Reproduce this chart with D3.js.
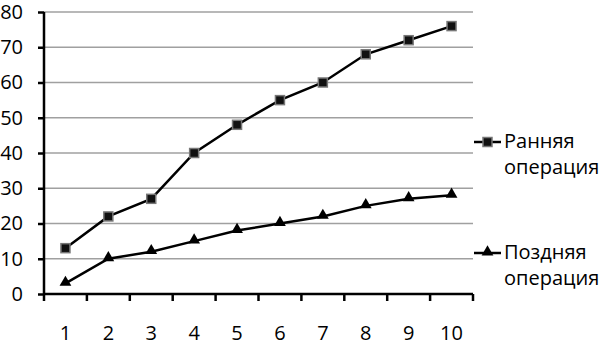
<!DOCTYPE html>
<html>
<head>
<meta charset="utf-8">
<script src="https://cdn.jsdelivr.net/npm/d3@7"></script>
<style>
  body { margin: 0; background: #fff; }
  text { font-family: "Open Sans", "Noto Sans", sans-serif; fill: #000; }
</style>
</head>
<body>
<svg id="chart" width="600" height="347"></svg>
<script>
// Data ------------------------------------------------------------------------------------
const categories = ["1", "2", "3", "4", "5", "6", "7", "8", "9", "10"];
const earlyValues = [13, 22, 27, 40, 48, 55, 60, 68, 72, 76];
const lateValues = [3, 10, 12, 15, 18, 20, 22, 25, 27, 28];
const yTicks = [0, 10, 20, 30, 40, 50, 60, 70, 80];
const seriesNames = [["Ранняя", "операция"], ["Поздняя", "операция"]];

// Setup -----------------------------------------------------------------------------------
var svg = d3.select("#chart");
var plotLeft = 44, plotRight = 473, plotTop = 12, plotBottom = 294;

var x = d3.scaleBand().domain(categories).range([plotLeft, plotRight]);
var y = d3.scaleLinear().domain([0, 80]).range([plotBottom, plotTop]);

// gridlines
svg.append("g")
    .selectAll("line")
    .data(yTicks.filter(d => d > 0))
    .enter()
    .append("line")
    .attr("x1", plotLeft)
    .attr("x2", plotRight)
    .attr("y1", d => y(d))
    .attr("y2", d => y(d))
    .style("stroke", "#a0a0a0")
    .style("stroke-width", 1.5);

// y axis
var yAxis = svg.append("g")
    .attr("transform", "translate(" + plotLeft + ",0)")
    .call(d3.axisLeft(y).tickValues(yTicks).tickSize(6).tickPadding(15));
yAxis.selectAll("text").style("font-size", "20px").attr("font-family", null);
yAxis.select(".domain").attr("d", "M0," + plotTop + "V" + plotBottom);
yAxis.selectAll("line, path").style("stroke", "#000").style("stroke-width", 2.5);

// x axis (ticks between categories)
var xAxis = svg.append("g")
    .attr("transform", "translate(0," + plotBottom + ")");
xAxis.append("line")
    .attr("x1", plotLeft).attr("x2", plotRight)
    .style("stroke", "#000").style("stroke-width", 2.5);
var boundaries = categories.map(c => x(c)).concat([plotRight]);
xAxis.selectAll("line.tk")
    .data(boundaries)
    .enter()
    .append("line")
    .attr("class", "tk")
    .attr("x1", d => d).attr("x2", d => d)
    .attr("y1", 0).attr("y2", 7)
    .style("stroke", "#000").style("stroke-width", 2.5);
xAxis.selectAll("text")
    .data(categories)
    .enter()
    .append("text")
    .attr("x", d => x(d) + x.bandwidth() / 2)
    .attr("y", 46)
    .attr("text-anchor", "middle")
    .style("font-size", "20px")
    .text(d => d);

// Lines -----------------------------------------------------------------------------------
var line = d3.line()
    .x((d, i) => x(categories[i]) + x.bandwidth() / 2)
    .y(d => y(d));

svg.append("path").datum(earlyValues)
    .attr("d", line).attr("fill", "none")
    .style("stroke", "#000").style("stroke-width", 2.5);
svg.append("path").datum(lateValues)
    .attr("d", line).attr("fill", "none")
    .style("stroke", "#000").style("stroke-width", 2.5);

var tri = d3.symbol().type(d3.symbolTriangle).size(60);

function squareMark(g, cx, cy) {
    g.append("rect")
        .attr("x", cx - 4.5).attr("y", cy - 4.5)
        .attr("width", 9).attr("height", 9)
        .attr("fill", "#111")
        .style("stroke", "#777").style("stroke-width", 1.5);
}
function triMark(g, cx, cy) {
    g.append("path")
        .attr("d", tri)
        .attr("transform", "translate(" + cx + "," + (cy - 1) + ")")
        .attr("fill", "#000");
}

var marks = svg.append("g");
earlyValues.forEach((v, i) => squareMark(marks, x(categories[i]) + x.bandwidth() / 2, y(v)));
lateValues.forEach((v, i) => triMark(marks, x(categories[i]) + x.bandwidth() / 2, y(v)));

// Legend ----------------------------------------------------------------------------------
var legend = svg.append("g");
var legendY = [142, 253];
legendY.forEach((ly, k) => {
    legend.append("line")
        .attr("x1", 474).attr("x2", 501)
        .attr("y1", ly).attr("y2", ly)
        .style("stroke", "#000").style("stroke-width", 2.5);
    if (k == 0) squareMark(legend, 487.5, ly);
    else triMark(legend, 487.5, ly);
    legend.append("text")
        .attr("x", 504).attr("y", ly + 6)
        .style("font-size", "20px")
        .text(seriesNames[k][0]);
    legend.append("text")
        .attr("x", 504).attr("y", ly + 32)
        .style("font-size", "20px")
        .text(seriesNames[k][1]);
});
</script>
</body>
</html>
